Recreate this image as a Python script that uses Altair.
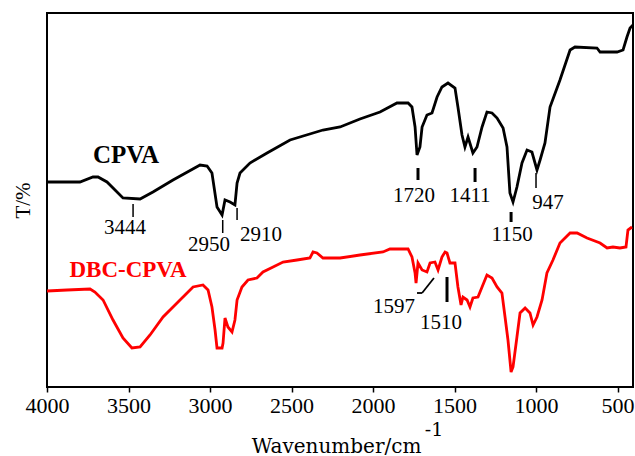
import altair as alt
import pandas as pd

# CPVA spectrum (black)
cpva_wn = [4000, 3798, 3718, 3687, 3632, 3534, 3429, 3350, 3227, 3061, 3018, 2988, 2957, 2926,
           2908, 2877, 2847, 2834, 2816, 2755, 2650, 2509, 2307, 2202, 2080, 1957, 1853, 1785,
           1761, 1742, 1730, 1712, 1699, 1669, 1638, 1607, 1577, 1540, 1497, 1479, 1454, 1436,
           1417, 1387, 1362, 1331, 1301, 1270, 1239, 1202, 1178, 1160, 1141, 1117, 1086, 1055,
           1025, 994, 975, 945, 914, 853, 791, 761, 626, 607, 503, 466, 442, 423, 405]
cpva_t = [205, 205, 210, 210, 205, 189, 188, 195, 207, 222, 221, 214, 180, 172,
          187, 185, 182, 204, 214, 224, 234, 247, 257, 260, 268, 275, 284, 284,
          280, 260, 232, 240, 260, 272, 274, 290, 300, 304, 299, 280, 252, 240,
          250, 234, 240, 260, 275, 274, 269, 259, 240, 194, 185, 200, 224, 237,
          235, 217, 227, 244, 280, 307, 337, 340, 339, 335, 335, 337, 350, 359, 362]

# DBC-CPVA spectrum (red)
dbc_wn = [4000, 3877, 3736, 3706, 3656, 3595, 3534, 3479, 3429, 3368, 3288, 3184, 3104, 3043,
          3012, 2988, 2969, 2957, 2926, 2920, 2908, 2890, 2865, 2847, 2834, 2804, 2767, 2712,
          2675, 2613, 2552, 2466, 2387, 2368, 2344, 2307, 2202, 2080, 1939, 1896, 1785, 1761,
          1742, 1736, 1724, 1699, 1669, 1650, 1620, 1601, 1577, 1558, 1546, 1528, 1497, 1479,
          1460, 1448, 1423, 1405, 1387, 1356, 1331, 1301, 1270, 1239, 1209, 1190, 1172, 1153,
          1141, 1117, 1098, 1067, 1037, 1018, 994, 963, 933, 896, 853, 791, 748, 687, 607,
          564, 528, 485, 448, 436, 411]
dbc_t = [96, 97, 98, 95, 87, 67, 49, 39, 40, 52, 70, 87, 100, 102,
         97, 80, 57, 39, 39, 44, 69, 60, 55, 67, 87, 100, 107, 109,
         115, 120, 125, 127, 129, 135, 134, 129, 129, 132, 135, 138, 138, 130,
         114, 104, 124, 117, 115, 124, 125, 117, 130, 135, 134, 124, 124, 100,
         82, 90, 87, 80, 89, 90, 100, 112, 109, 100, 94, 70, 47, 15,
         20, 50, 74, 79, 74, 62, 70, 87, 114, 127, 144, 154, 154, 149, 144,
         139, 140, 139, 140, 157, 160]

# Peak labels
peak_text = ["3444", "2950", "2910", "1720", "1411", "947", "1150", "1597", "1510"]
peak_wn = [3521, 3006, 2687, 1748, 1405, 926, 1147, 1871, 1583]
peak_t = [159, 142, 152, 191, 191, 184, 152, 80, 64]

# Peak marker lines
mark_wn = [3472, 2922, 2834, 1724, 1374, 1000, 1153, 1546, 1730, 1699]
mark_wn2 = [3472, 2922, 2834, 1724, 1374, 1000, 1153, 1546, 1699, 1626]
mark_t = [183, 167, 179, 219, 219, 214, 175, 110, 94, 94]
mark_t2 = [170, 154, 167, 207, 205, 199, 165, 85, 94, 109]
mark_w = [1.5, 1.5, 1.5, 3, 3, 1.5, 3, 3, 1.8, 1.8]

# Series names
series_text = ["CPVA", "DBC-CPVA"]
series_wn = [3515, 3503]
series_t = [232, 117]
series_color = ["black", "#ff0000"]
series_size = [25, 23]

SERIF = "Liberation Serif, Times New Roman, serif"

spec_df = pd.concat([
    pd.DataFrame({"wn": cpva_wn, "t": cpva_t, "s": "CPVA"}),
    pd.DataFrame({"wn": dbc_wn, "t": dbc_t, "s": "DBC-CPVA"}),
])
peak_df = pd.DataFrame({"wn": peak_wn, "t": peak_t, "txt": peak_text})
mark_df = pd.DataFrame({"wn": mark_wn, "wn2": mark_wn2, "t": mark_t, "t2": mark_t2, "w": mark_w})
name_df = pd.DataFrame({"wn": series_wn, "t": series_t, "txt": series_text,
                        "c": series_color, "sz": series_size})
sup_df = pd.DataFrame({"wn": [1626], "t": [-43], "txt": ["-1"]})

xscale = alt.Scale(domain=[4000, 405], nice=False, zero=False)
yscale = alt.Scale(domain=[0, 374], nice=False, zero=False)

xaxis = alt.Axis(values=[4000, 3500, 3000, 2500, 2000, 1500, 1000, 500], format="d",
                 tickSize=5, tickColor="black", tickWidth=1.5, domain=False, grid=False,
                 labelFont=SERIF, labelFontSize=22, labelColor="black",
                 labelFlush=False, labelOverlap=False, labelPadding=3,
                 title="Wavenumber/cm", titleFont="DejaVu Serif", titleFontSize=20,
                 titleFontWeight="normal", titleColor="black",
                 titleX=289, titleY=65, titleAlign="center", titleBaseline="alphabetic")
yaxis = alt.Axis(labels=False, ticks=False, domain=False, grid=False,
                 title="T/%", titleFont=SERIF, titleFontSize=21,
                 titleFontWeight="normal", titleColor="black",
                 titleX=-24, titleY=187, titleAlign="center", titleBaseline="middle")

base_x = alt.X("wn:Q", scale=xscale, axis=xaxis)
base_y = alt.Y("t:Q", scale=yscale, axis=yaxis)

lines = alt.Chart(spec_df).mark_line(strokeWidth=2.8, clip=True).encode(
    x=base_x, y=base_y,
    color=alt.Color("s:N", scale=alt.Scale(domain=["CPVA", "DBC-CPVA"],
                                            range=["black", "#ff0000"]), legend=None),
    order=alt.Order("idx:Q"),
).transform_window(idx="row_number()", groupby=["s"])

marks = alt.Chart(mark_df).mark_rule(color="black").encode(
    x=alt.X("wn:Q", scale=xscale), x2="wn2:Q",
    y=alt.Y("t:Q", scale=yscale), y2="t2:Q",
    strokeWidth=alt.StrokeWidth("w:Q", scale=None),
)

peaks = alt.Chart(peak_df).mark_text(font=SERIF, fontSize=21, color="black",
                                     align="center", baseline="middle").encode(
    x=alt.X("wn:Q", scale=xscale), y=alt.Y("t:Q", scale=yscale), text="txt:N")

names = alt.Chart(name_df).mark_text(font=SERIF, fontWeight="bold",
                                     align="center", baseline="middle").encode(
    x=alt.X("wn:Q", scale=xscale), y=alt.Y("t:Q", scale=yscale), text="txt:N",
    color=alt.Color("c:N", scale=None), size=alt.Size("sz:Q", scale=None))

sup = alt.Chart(sup_df).mark_text(font="DejaVu Serif", fontSize=19, color="black",
                                  align="center", baseline="middle").encode(
    x=alt.X("wn:Q", scale=xscale), y=alt.Y("t:Q", scale=yscale), text="txt:N")

chart = alt.layer(lines, marks, peaks, names, sup).properties(
    width=586, height=374,
    autosize=alt.AutoSizeParams(type="none"),
    padding={"left": 47, "top": 13, "right": 2, "bottom": 69},
    background="white",
).configure_view(stroke="black", strokeWidth=2).configure_axis(
    labelFont=SERIF
).configure_text(font=SERIF)

chart.save("out.html", embed_options={"renderer": "svg", "actions": False})
